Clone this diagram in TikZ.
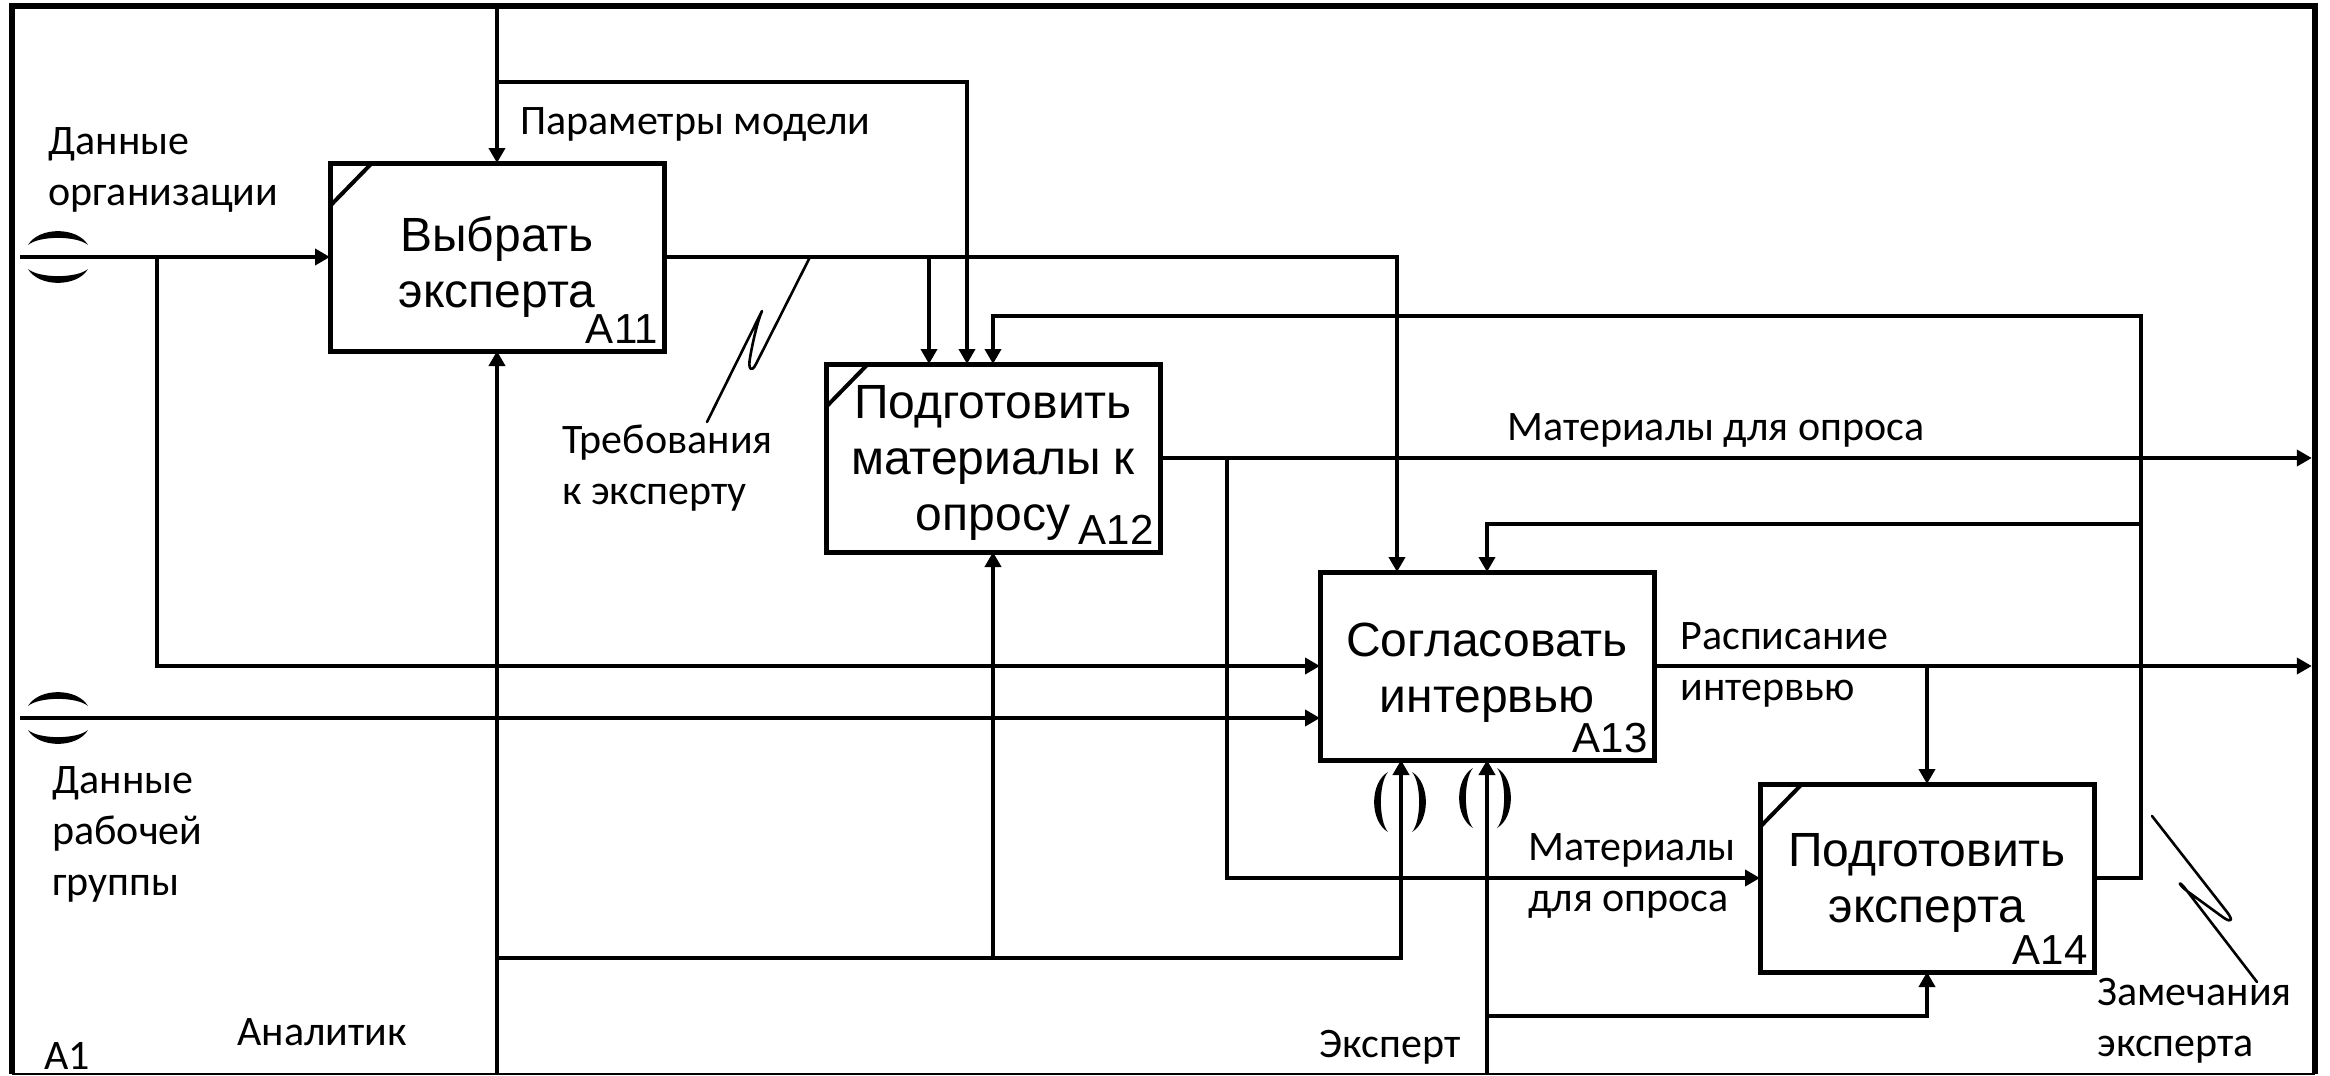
\documentclass[tikz,border=0pt]{standalone}
\usepackage{fontspec}
\usetikzlibrary{arrows.meta}
\newfontfamily\lblfont{Carlito}
\newfontfamily\boxfont{Liberation Sans}
% stacked lines whose baseline is the first line
\newcommand{\mlines}[2][l]{\begin{tabular}[t]{@{}#1@{}}#2\end{tabular}}

% IDEF0 tunnel: two crescents around an arrow
\tikzset{
  tunnel/.pic={
    \fill (-30,-12) .. controls (-19,-30.5) and (19,-30.5) .. (30,-12)
          .. controls (19,-21.5) and (-19,-21.5) .. (-30,-12) -- cycle;
    \fill (-30,12) .. controls (-19,30.5) and (19,30.5) .. (30,12)
          .. controls (19,21.5) and (-19,21.5) .. (-30,12) -- cycle;
  }
}

\begin{document}
\begin{tikzpicture}[x=0.5pt,y=-0.5pt,
  proc/.style={draw, line width=2.5pt, minimum width=167pt, minimum height=94pt,
               inner sep=0pt, outer sep=0pt},
  corner/.style={line width=2pt},
  ptext/.style={font=\boxfont\fontsize{24}{28}\selectfont, inner sep=0pt, anchor=base},
  pnum/.style={font=\boxfont\fontsize{21}{24}\selectfont, inner sep=0pt, anchor=base east},
  lbl/.style={font=\lblfont\fontsize{21}{25.5}\selectfont, inner sep=0pt, anchor=base west},
  conn/.style={line width=1.9pt},
  arr/.style={conn, -{Triangle[length=7.5pt,width=8pt]}},
  toborder/.style={shorten >=1.6pt},
  squig/.style={line width=1.3pt, line join=round, line cap=round}
]
\fill[white] (0,0) rectangle (2330,1076);
\useasboundingbox (0,0) rectangle (2330,1076);

% diagram frame
\node[minimum width=1151.5pt, minimum height=534pt, inner sep=0pt, outer sep=0pt]
  (frame) at (1163.5,540) {};
\draw[line width=3.3pt, line join=miter]
  (frame.south west) -- (frame.north west) -- (frame.north east) -- (frame.south east);
\draw[line width=1pt] (frame.south west) -- (frame.south east);

% activity boxes
\node[proc] (a11) at (497,257) {};
\node[proc] (a12) at (993,458) {};
\node[proc] (a13) at (1487,666) {};
\node[proc] (a14) at (1927,878) {};

\draw[corner] ([yshift=-21.5pt]a11.north west) -- ([xshift=21pt]a11.north west);
\draw[corner] ([yshift=-21.5pt]a12.north west) -- ([xshift=21pt]a12.north west);
\draw[corner] ([yshift=-21.5pt]a14.north west) -- ([xshift=21pt]a14.north west);

\node[ptext] (a11t) at (497,251) {\mlines[c]{Выбрать\\эксперта}};
\node[ptext] (a12t) at (993,418) {\mlines[c]{Подготовить\\материалы к\\опросу}};
\node[ptext] (a13t) at (1487,656) {\mlines[c]{Согласовать\\интервью}};
\node[ptext] (a14t) at (1927,866) {\mlines[c]{Подготовить\\эксперта}};

\node[pnum] (a11n) at ([xshift=-3pt,yshift=4pt]a11.south east) {A11};
\node[pnum] (a12n) at ([xshift=-3pt,yshift=4pt]a12.south east) {A12};
\node[pnum] (a13n) at ([xshift=-3pt,yshift=4pt]a13.south east) {A13};
\node[pnum] (a14n) at ([xshift=-3pt,yshift=4pt]a14.south east) {A14};

% inputs from the left
\coordinate (in1) at (20,257);
\coordinate (in2) at (20,718);
\coordinate (j1) at (157,257);
\draw[arr] (in1) -- (a11.west);
\draw[arr] (j1) |- (a13.west);
\draw[arr] (in2) -- (in2 -| a13.west);
\pic at (58,257) {tunnel};
\pic at (58,718) {tunnel};

% controls
\coordinate (c1) at (a11.north |- frame.north);
\coordinate (jp) at (497,82);
\coordinate (kp) at (967,82);
\draw[arr] (c1) -- (a11.north);
\draw[arr] (jp) -- (kp) -- (kp |- a12.north);

% output of A11
\coordinate (k1) at (1397,257);
\coordinate (j2) at (929,257);
\draw[arr] (a11.east) -- (k1) -- (k1 |- a13.north);
\draw[arr] (j2) -- (j2 |- a12.north);

% feedback from A14
\coordinate (fb) at (2141,878);
\coordinate (fbt) at (2141,316);
\coordinate (fbm) at (2141,524);
\draw[arr] (a14.east) -- (fb) -- (fbt) -| (a12.north);
\draw[arr] (fbm) -| (a13.north);

% output of A12
\coordinate (j3) at (1227,458);
\draw[arr, toborder] (a12.east) -- (a12.east -| frame.east);
\draw[arr] (j3) |- (a14.west);

% output of A13
\coordinate (j4) at (1927,666);
\draw[arr, toborder] (a13.east) -- (a13.east -| frame.east);
\draw[arr] (j4) -- (a14.north);

% mechanisms
\coordinate (m1) at (a11.south |- frame.south);
\coordinate (jm1) at (497,958);
\coordinate (k2) at (1401,958);
\coordinate (jm2) at (993,958);
\coordinate (m2) at (a13.south |- frame.south);
\coordinate (jm3) at (1487,1016);
\draw[arr] (m1) -- (a11.south);
\draw[arr] (jm1) -- (k2) -- (k2 |- a13.south);
\draw[arr] (jm2) -- (a12.south);
\draw[arr] (m2) -- (a13.south);
\draw[arr] (jm3) -| (a14.south);
\pic[rotate=90] at (1400,802) {tunnel};
\pic[rotate=90] at (1485,798) {tunnel};

% squiggles tying labels to arrows
\draw[squig] (810,257) -- (756,364) .. controls (751,374) and (748,368) .. (750,358)
  .. controls (753,340) and (758,320) .. (762,311) -- (707,422);
\draw[squig] (2152,816) -- (2227,912) .. controls (2233,920) and (2232,923) .. (2224,918)
  -- (2187,891) .. controls (2178,884) and (2178,880) .. (2184,887) -- (2257,982);

% arrow labels
\node[lbl] (lorg) at (48,154) {\mlines{Данные\\организации}};
\node[lbl] (lwork) at (52,793) {\mlines{Данные\\рабочей\\группы}};
\node[lbl] (lpar) at (520,134) {Параметры модели};
\node[lbl] (lreq) at (562,453) {\mlines{Требования\\к эксперту}};
\node[lbl] (lmat) at (1507,440) {Материалы для опроса};
\node[lbl] (lsch) at (1680,649) {\mlines{Расписание\\интервью}};
\node[lbl] (lmatb) at (1528,860) {\mlines{Материалы\\для опроса}};
\node[lbl] (lrem) at (2097,1005) {\mlines{Замечания\\эксперта}};
\node[lbl] (lan) at (237,1045) {Аналитик};
\node[lbl] (lex) at (1319,1057) {Эксперт};
\node[lbl] (la1) at (44,1069) {A1};
\end{tikzpicture}
\end{document}
